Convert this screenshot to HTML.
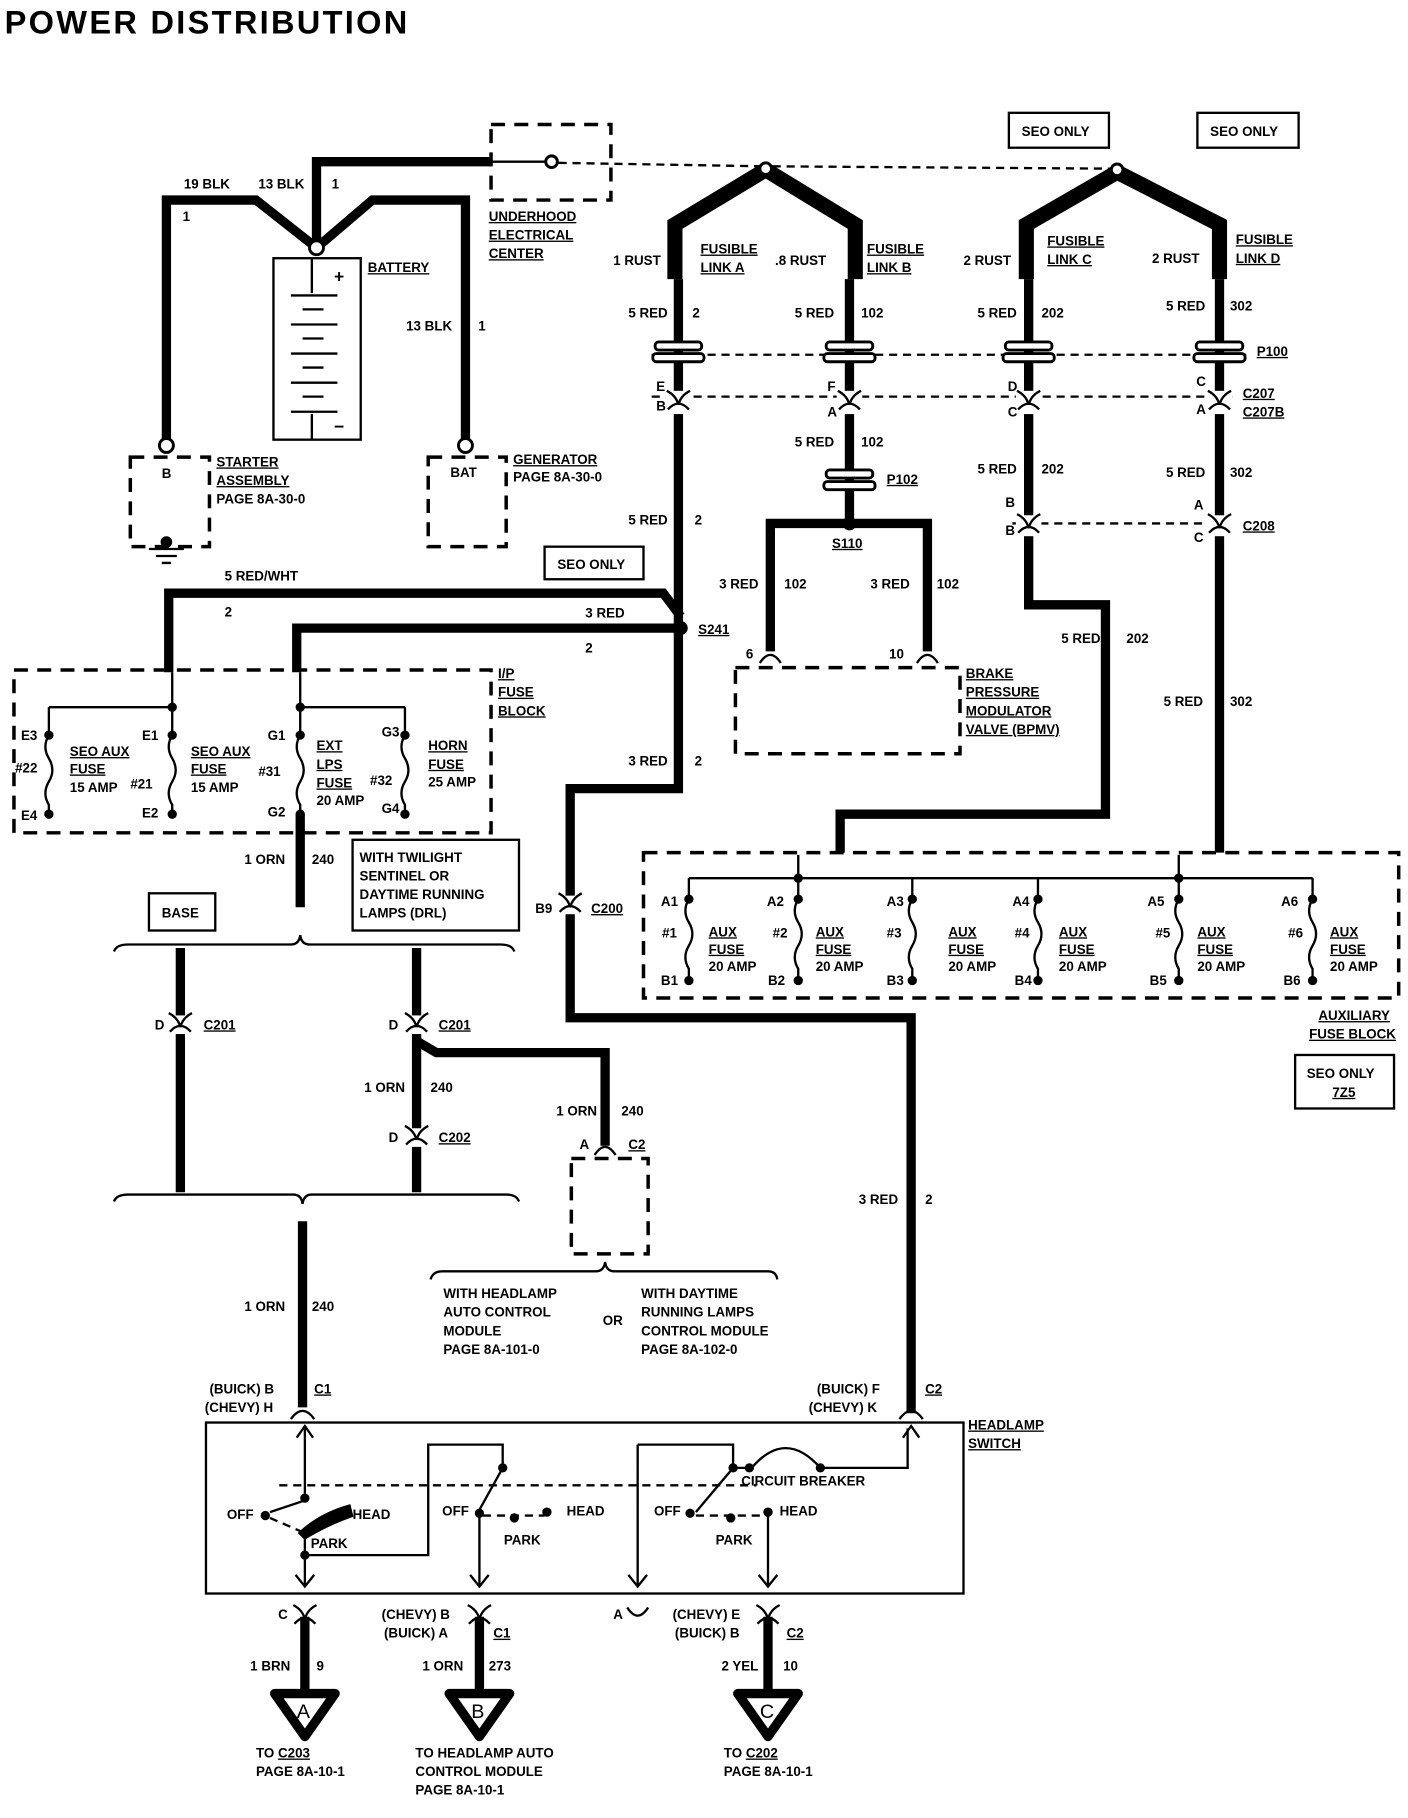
<!DOCTYPE html>
<html><head><meta charset="utf-8"><style>
html,body{margin:0;padding:0;background:#fff}
svg{display:block}
text{font-family:"Liberation Sans",sans-serif;font-weight:bold;font-size:11.5px;fill:#000}
.k{stroke:#000;fill:none;stroke-width:8;stroke-linejoin:miter}
.f{stroke:#000;fill:none;stroke-width:13}
.n{stroke:#000;fill:none;stroke-width:2}
.d{stroke:#000;fill:none;stroke-width:3;stroke-dasharray:12 8}
.dl{stroke:#000;fill:none;stroke-width:2;stroke-dasharray:7 5}
.u{text-decoration:underline}
.w{fill:#fff;stroke:#000;stroke-width:2.5}
</style></head><body>
<svg width="1408" height="1818" viewBox="0 0 1210 1563" preserveAspectRatio="none" xmlns="http://www.w3.org/2000/svg">
<defs>
<g id="cn"><path d="M-10,-10 Q-2,-6 0,2 Q2,-6 10,-10" class="n" stroke-width="2.5"/><path d="M-9,6 Q0,-4 9,6" class="n" stroke-width="2.5"/></g>
<g id="gr"><rect x="-20" y="-8" width="40" height="7" rx="3" class="w"/><rect x="-22" y="2" width="44" height="7" rx="3" class="w"/></g>
<g id="sw"><path d="M-8,-8 L0,2 L8,-8" class="n"/></g>
</defs>
<text x="4" y="29" style="font-size:28px;font-weight:bold;letter-spacing:-1px" textLength="345">POWER DISTRIBUTION</text>

<!-- battery area -->
<path class="k" d="M272,213 V139 H422"/>
<path class="k" d="M143,383 V172 H220 L272,213 L320,172 H400 V383"/>
<rect x="422" y="107" width="103" height="65" class="d"/>
<path class="n" d="M422,139 H468"/><circle cx="474" cy="139" r="5" class="w"/>
<path class="dl" d="M480,140 L658,143"/><path class="dl" d="M664,143 L955,145"/>
<circle cx="272" cy="213" r="6" class="w"/>
<rect x="235" y="222" width="75" height="156" class="n"/>
<path class="n" d="M268,222V252 M250,254H290 M260,266H278 M250,279H290 M260,291H278 M250,304H290 M260,316H278 M250,329H290 M260,341H278 M250,354H290 M268,356V378"/>
<text x="287" y="243" style="font-size:15px">+</text><text x="287" y="372" style="font-size:15px">−</text>
<text x="158" y="162">19 BLK</text><text x="222" y="162">13 BLK</text><text x="285" y="162">1</text><text x="157" y="190">1</text>
<text x="316" y="234" class="u">BATTERY</text><text x="349" y="284">13 BLK</text><text x="411" y="284">1</text>
<circle cx="143" cy="383" r="6" class="w"/><rect x="112" y="393" width="68" height="77" class="d"/>
<text x="139" y="411">B</text><circle cx="143" cy="466" r="5"/><path class="n" d="M128,472H158 M134,478H152 M139,484H147"/>
<text x="186" y="401" class="u">STARTER</text><text x="186" y="417" class="u">ASSEMBLY</text><text x="186" y="433">PAGE 8A-30-0</text>
<circle cx="400" cy="383" r="6" class="w"/><rect x="368" y="393" width="67" height="77" class="d"/>
<text x="387" y="410">BAT</text><text x="441" y="399" class="u">GENERATOR</text><text x="441" y="414">PAGE 8A-30-0</text>
<text x="420" y="190" class="u">UNDERHOOD</text><text x="420" y="206" class="u">ELECTRICAL</text><text x="420" y="222" class="u">CENTER</text>

<!-- fusible links -->
<path class="f" d="M658,146 L580,193 V240 M658,146 L735,193 V240"/>
<path class="f" d="M960,148 L882,193 V240 M960,148 L1048,193 V240"/>
<circle cx="658" cy="145" r="5" class="w"/><circle cx="960" cy="146" r="5" class="w"/>
<text x="527" y="228">1 RUST</text><text x="602" y="218" class="u">FUSIBLE</text><text x="602" y="234" class="u">LINK A</text>
<text x="666" y="228">.8 RUST</text><text x="745" y="218" class="u">FUSIBLE</text><text x="745" y="234" class="u">LINK B</text>
<text x="828" y="228">2 RUST</text><text x="900" y="211" class="u">FUSIBLE</text><text x="900" y="227" class="u">LINK C</text>
<text x="990" y="226">2 RUST</text><text x="1062" y="210" class="u">FUSIBLE</text><text x="1062" y="226" class="u">LINK D</text>
<rect x="867" y="97" width="86" height="30" class="n"/><text x="878" y="117">SEO ONLY</text>
<rect x="1029" y="97" width="87" height="30" class="n"/><text x="1040" y="117">SEO ONLY</text>

<!-- main wires -->
<path class="k" d="M583,240 V678 H490 V875 H783 V1215"/>
<path class="k" d="M730,240 V450"/>
<path class="k" d="M884,240 V520 H950 V700 H722 V733"/>
<path class="k" d="M1048,240 V733"/>
<path class="k" d="M145,578 V510 H570 L585,530"/>
<path class="k" d="M255,578 V540 H585"/>
<circle cx="585" cy="540" r="6"/>
<text x="600" y="545" class="u">S241</text>
<text x="193" y="499">5 RED/WHT</text><text x="193" y="530">2</text><text x="503" y="531">3 RED</text><text x="503" y="561">2</text>
<rect x="468" y="470" width="85" height="28" class="n"/><text x="479" y="489">SEO ONLY</text>
<text x="540" y="273">5 RED</text><text x="595" y="273">2</text>
<text x="683" y="273">5 RED</text><text x="740" y="273">102</text>
<text x="840" y="273">5 RED</text><text x="895" y="273">202</text>
<text x="1002" y="267">5 RED</text><text x="1057" y="267">302</text>
<path class="dl" d="M560,305 H1075"/>
<use href="#gr" x="583" y="302"/><use href="#gr" x="730" y="302"/><use href="#gr" x="884" y="302"/><use href="#gr" x="1048" y="302"/>
<text x="1080" y="306" class="u">P100</text>
<path class="dl" d="M560,341 H1060"/>
<g fill="#fff"><rect x="572" y="336" width="22" height="20" fill="#fff"/><rect x="719" y="336" width="22" height="20" fill="#fff"/><rect x="873" y="336" width="22" height="20" fill="#fff"/><rect x="1037" y="336" width="22" height="20" fill="#fff"/></g>
<use href="#cn" x="583" y="346"/><use href="#cn" x="730" y="346"/><use href="#cn" x="884" y="346"/><use href="#cn" x="1048" y="346"/>
<text x="564" y="336">E</text><text x="564" y="353">B</text><text x="711" y="336">F</text><text x="711" y="358">A</text>
<text x="866" y="336">D</text><text x="866" y="358">C</text><text x="1028" y="332">C</text><text x="1028" y="356">A</text>
<text x="1068" y="342" class="u">C207</text><text x="1068" y="358" class="u">C207B</text>
<text x="540" y="451">5 RED</text><text x="597" y="451">2</text>
<text x="683" y="384">5 RED</text><text x="740" y="384">102</text>
<use href="#gr" x="730" y="412"/><text x="762" y="416" class="u">P102</text>
<circle cx="730" cy="450" r="6"/><text x="715" y="471" class="u">S110</text>
<path class="k" d="M730,450 H662 V560 M730,450 H797 V560"/>
<text x="618" y="506">3 RED</text><text x="674" y="506">102</text><text x="748" y="506">3 RED</text><text x="805" y="506">102</text>
<path class="n" stroke-width="2.5" d="M653,570 Q662,556 671,570 M788,570 Q797,556 806,570"/>
<text x="641" y="566">6</text><text x="764" y="566">10</text>
<rect x="632" y="574" width="193" height="74" class="d"/>
<text x="830" y="583" class="u">BRAKE</text><text x="830" y="599" class="u">PRESSURE</text><text x="830" y="615" class="u">MODULATOR</text><text x="830" y="631" class="u">VALVE (BPMV)</text>
<text x="840" y="407">5 RED</text><text x="895" y="407">202</text>
<text x="1002" y="410">5 RED</text><text x="1057" y="410">302</text>
<path class="dl" d="M870,450 H1060"/>
<rect x="873" y="443" width="22" height="18" fill="#fff"/><rect x="1037" y="443" width="22" height="18" fill="#fff"/>
<use href="#cn" x="884" y="452"/><use href="#cn" x="1048" y="452"/>
<text x="864" y="436">B</text><text x="864" y="460">B</text><text x="1026" y="438">A</text><text x="1026" y="466">C</text>
<text x="1068" y="456" class="u">C208</text>
<text x="912" y="553">5 RED</text><text x="968" y="553">202</text>
<text x="1000" y="607">5 RED</text><text x="1057" y="607">302</text>
<text x="540" y="658">3 RED</text><text x="597" y="658">2</text>
<rect x="480" y="770" width="20" height="16" fill="#fff"/><use href="#cn" x="490" y="778"/>
<text x="460" y="785">B9</text><text x="508" y="785" class="u">C200</text>
<text x="738" y="1035">3 RED</text><text x="795" y="1035">2</text>

<!-- aux fuse block -->
<rect x="553" y="733" width="649" height="125" class="d"/>
<path class="n" d="M592,755 H1128 M686,735V755 M1013,735V755"/>
<circle cx="686" cy="755" r="4"/><circle cx="1013" cy="755" r="4"/>
<g class="n">
<path d="M592,755V773 q-6,10 0,20 q6,10 0,20 q-6,10 0,20 V843"/>
<path d="M686,755V773 q-6,10 0,20 q6,10 0,20 q-6,10 0,20 V843"/>
<path d="M784,755V773 q-6,10 0,20 q6,10 0,20 q-6,10 0,20 V843"/>
<path d="M892,755V773 q-6,10 0,20 q6,10 0,20 q-6,10 0,20 V843"/>
<path d="M1013,755V773 q-6,10 0,20 q6,10 0,20 q-6,10 0,20 V843"/>
<path d="M1128,755V773 q-6,10 0,20 q6,10 0,20 q-6,10 0,20 V843"/>
</g>
<g><circle cx="592" cy="773" r="4"/><circle cx="592" cy="843" r="4"/><circle cx="686" cy="773" r="4"/><circle cx="686" cy="843" r="4"/><circle cx="784" cy="773" r="4"/><circle cx="784" cy="843" r="4"/><circle cx="892" cy="773" r="4"/><circle cx="892" cy="843" r="4"/><circle cx="1013" cy="773" r="4"/><circle cx="1013" cy="843" r="4"/><circle cx="1128" cy="773" r="4"/><circle cx="1128" cy="843" r="4"/></g>
<text x="568" y="779">A1</text><text x="569" y="806">#1</text><text x="568" y="847">B1</text>
<text x="659" y="779">A2</text><text x="664" y="806">#2</text><text x="660" y="847">B2</text>
<text x="762" y="779">A3</text><text x="762" y="806">#3</text><text x="762" y="847">B3</text>
<text x="870" y="779">A4</text><text x="872" y="806">#4</text><text x="872" y="847">B4</text>
<text x="986" y="779">A5</text><text x="993" y="806">#5</text><text x="988" y="847">B5</text>
<text x="1101" y="779">A6</text><text x="1107" y="806">#6</text><text x="1103" y="847">B6</text>
<g><text x="609" y="805" class="u">AUX</text><text x="609" y="820" class="u">FUSE</text><text x="609" y="835">20 AMP</text>
<text x="701" y="805" class="u">AUX</text><text x="701" y="820" class="u">FUSE</text><text x="701" y="835">20 AMP</text>
<text x="815" y="805" class="u">AUX</text><text x="815" y="820" class="u">FUSE</text><text x="815" y="835">20 AMP</text>
<text x="910" y="805" class="u">AUX</text><text x="910" y="820" class="u">FUSE</text><text x="910" y="835">20 AMP</text>
<text x="1029" y="805" class="u">AUX</text><text x="1029" y="820" class="u">FUSE</text><text x="1029" y="835">20 AMP</text>
<text x="1143" y="805" class="u">AUX</text><text x="1143" y="820" class="u">FUSE</text><text x="1143" y="835">20 AMP</text></g>
<text x="1133" y="877" class="u">AUXILIARY</text><text x="1125" y="893" class="u">FUSE BLOCK</text>
<rect x="1113" y="907" width="85" height="46" class="n"/><text x="1123" y="927">SEO ONLY</text><text x="1145" y="943" class="u">7Z5</text>

<!-- I/P fuse block -->
<rect x="12" y="576" width="410" height="140" class="d"/>
<path class="n" d="M42,608H148 M148,578V608 M258,608H348 M258,578V608"/>
<g class="n">
<path d="M42,608V632 q-6,10 0,20 q6,10 0,20 q-6,10 0,20 V700"/>
<path d="M148,608V632 q-6,10 0,20 q6,10 0,20 q-6,10 0,20 V700"/>
<path d="M258,608V632 q-6,10 0,20 q6,10 0,20 q-6,10 0,20 V700"/>
<path d="M348,608V632 q-6,10 0,20 q6,10 0,20 q-6,10 0,20 V700"/>
</g>
<g><circle cx="42" cy="632" r="4"/><circle cx="42" cy="700" r="4"/><circle cx="148" cy="608" r="4"/><circle cx="148" cy="632" r="4"/><circle cx="148" cy="700" r="4"/><circle cx="258" cy="608" r="4"/><circle cx="258" cy="632" r="4"/><circle cx="258" cy="700" r="4"/><circle cx="348" cy="632" r="4"/><circle cx="348" cy="700" r="4"/></g>
<text x="18" y="636">E3</text><text x="13" y="664">#22</text><text x="18" y="705">E4</text>
<text x="60" y="650" class="u">SEO AUX</text><text x="60" y="665" class="u">FUSE</text><text x="60" y="681">15 AMP</text>
<text x="122" y="636">E1</text><text x="112" y="678">#21</text><text x="122" y="703">E2</text>
<text x="164" y="650" class="u">SEO AUX</text><text x="164" y="665" class="u">FUSE</text><text x="164" y="681">15 AMP</text>
<text x="230" y="636">G1</text><text x="222" y="667">#31</text><text x="230" y="702">G2</text>
<text x="272" y="645" class="u">EXT</text><text x="272" y="661" class="u">LPS</text><text x="272" y="677" class="u">FUSE</text><text x="272" y="692">20 AMP</text>
<text x="328" y="633">G3</text><text x="318" y="675">#32</text><text x="328" y="699">G4</text>
<text x="368" y="645" class="u">HORN</text><text x="368" y="661" class="u">FUSE</text><text x="368" y="676">25 AMP</text>
<text x="428" y="583" class="u">I/P</text><text x="428" y="599" class="u">FUSE</text><text x="428" y="615" class="u">BLOCK</text>

<!-- base area -->
<path class="k" d="M258,700 V780"/>
<text x="210" y="743">1 ORN</text><text x="268" y="743">240</text>
<rect x="303" y="722" width="143" height="78" class="n"/>
<text x="309" y="741">WITH TWILIGHT</text><text x="309" y="757">SENTINEL OR</text><text x="309" y="773">DAYTIME RUNNING</text><text x="309" y="789">LAMPS (DRL)</text>
<rect x="128" y="768" width="57" height="32" class="n"/><text x="139" y="789">BASE</text>
<path class="n" d="M98,818 Q100,812 110,812 H250 Q257,812 258,804 Q259,812 266,812 H430 Q440,812 442,818"/>
<path class="n" d="M98,1033 Q100,1027 110,1027 H252 Q259,1027 260,1035 Q261,1027 268,1027 H435 Q444,1027 446,1033"/>
<path class="k" d="M155,815 V1025 M358,815 V1025"/>
<path class="k" d="M358,895 L375,905 H520 V985"/>
<rect x="145" y="873" width="20" height="16" fill="#fff"/><use href="#cn" x="155" y="881"/>
<rect x="348" y="873" width="20" height="16" fill="#fff"/><use href="#cn" x="358" y="881"/>
<rect x="348" y="970" width="20" height="16" fill="#fff"/><use href="#cn" x="358" y="978"/>
<text x="133" y="885">D</text><text x="175" y="885" class="u">C201</text><text x="334" y="885">D</text><text x="377" y="885" class="u">C201</text>
<text x="313" y="939">1 ORN</text><text x="370" y="939">240</text>
<text x="334" y="982">D</text><text x="377" y="982" class="u">C202</text>
<text x="478" y="959">1 ORN</text><text x="534" y="959">240</text>
<path class="n" stroke-width="2.5" d="M511,993 Q520,979 529,993"/>
<text x="498" y="988">A</text><text x="540" y="988" class="u">C2</text>
<rect x="491" y="996" width="66" height="82" class="d"/>
<path class="n" d="M370,1100 Q372,1093 380,1093 H512 Q519,1093 520,1085 Q521,1093 528,1093 H660 Q667,1093 668,1100"/>
<text x="381" y="1116">WITH HEADLAMP</text><text x="381" y="1132">AUTO CONTROL</text><text x="381" y="1148">MODULE</text><text x="381" y="1164">PAGE 8A-101-0</text>
<text x="518" y="1139">OR</text>
<text x="551" y="1116">WITH DAYTIME</text><text x="551" y="1132">RUNNING LAMPS</text><text x="551" y="1148">CONTROL MODULE</text><text x="551" y="1164">PAGE 8A-102-0</text>
<path class="k" d="M260,1050 V1210"/>
<text x="210" y="1127">1 ORN</text><text x="268" y="1127">240</text>
<text x="180" y="1198">(BUICK) B</text><text x="176" y="1214">(CHEVY) H</text><text x="270" y="1198" class="u">C1</text>
<text x="702" y="1198">(BUICK) F</text><text x="695" y="1214">(CHEVY) K</text><text x="795" y="1198" class="u">C2</text>
<path class="n" stroke-width="2.5" d="M250,1220 Q260,1206 270,1220 M773,1220 Q783,1206 793,1220"/>

<!-- headlamp switch -->
<rect x="177" y="1223" width="651" height="147" class="n" stroke-width="4"/>
<text x="832" y="1229" class="u">HEADLAMP</text><text x="832" y="1245" class="u">SWITCH</text>
<path class="n" d="M262,1228V1290 L232,1300 M262,1318V1363 M262,1337H368V1242H432V1262 L412,1298 M412,1300V1363 M548,1242V1363 M548,1242H630V1262 L598,1300 M630,1262H646 M705,1262H780V1228 M660,1300V1363"/>
<path class="n" d="M646,1262 Q675,1228 705,1262"/>
<path class="n" d="M255,1236 L262,1226 L269,1236 M776,1236 L783,1226 L790,1236"/>
<use href="#sw" x="262" y="1362"/><use href="#sw" x="412" y="1362"/><use href="#sw" x="548" y="1362"/><use href="#sw" x="660" y="1362"/>
<path class="dl" d="M240,1277H650"/>
<path class="dl" d="M232,1305 L262,1318 M415,1303 H468 M598,1303 H660"/>
<path d="M258,1318 Q275,1302 300,1295 L302,1303 Q282,1310 262,1322Z" stroke="#000" stroke-width="3"/>
<g><circle cx="262" cy="1288" r="4"/><circle cx="228" cy="1303" r="4"/><circle cx="262" cy="1337" r="4"/><circle cx="432" cy="1262" r="4"/><circle cx="412" cy="1301" r="4"/><circle cx="442" cy="1305" r="4"/><circle cx="470" cy="1300" r="4"/><circle cx="630" cy="1262" r="4"/><circle cx="644" cy="1262" r="4"/><circle cx="705" cy="1262" r="4"/><circle cx="593" cy="1301" r="4"/><circle cx="628" cy="1305" r="4"/><circle cx="660" cy="1300" r="4"/></g>
<text x="195" y="1306">OFF</text><text x="303" y="1306">HEAD</text><text x="267" y="1331">PARK</text>
<text x="380" y="1303">OFF</text><text x="487" y="1303">HEAD</text><text x="433" y="1328">PARK</text>
<text x="562" y="1303">OFF</text><text x="670" y="1303">HEAD</text><text x="615" y="1328">PARK</text>
<text x="637" y="1277">CIRCUIT BREAKER</text>

<!-- bottom outputs -->
<path class="k" d="M262,1390 V1455 M412,1390 V1455 M660,1390 V1455"/>
<use href="#cn" x="262" y="1390"/><use href="#cn" x="412" y="1390"/><use href="#cn" x="660" y="1390"/>
<path class="n" stroke-width="2.5" d="M539,1382 Q548,1396 557,1382"/>
<text x="239" y="1392">C</text><text x="328" y="1392">(CHEVY) B</text><text x="330" y="1408">(BUICK) A</text><text x="424" y="1408" class="u">C1</text>
<text x="527" y="1392">A</text><text x="578" y="1392">(CHEVY) E</text><text x="580" y="1408">(BUICK) B</text><text x="676" y="1408" class="u">C2</text>
<text x="215" y="1436">1 BRN</text><text x="272" y="1436">9</text>
<text x="363" y="1436">1 ORN</text><text x="420" y="1436">273</text>
<text x="620" y="1436">2 YEL</text><text x="673" y="1436">10</text>
<path d="M236,1456 H288 L262,1493Z" fill="none" stroke="#000" stroke-width="8" stroke-linejoin="round"/>
<path d="M386,1456 H438 L412,1493Z" fill="none" stroke="#000" stroke-width="8" stroke-linejoin="round"/>
<path d="M634,1456 H686 L660,1493Z" fill="none" stroke="#000" stroke-width="8" stroke-linejoin="round"/>
<text x="255" y="1477" style="font-size:17px;font-weight:normal">A</text>
<text x="405" y="1477" style="font-size:17px;font-weight:normal">B</text>
<text x="653" y="1477" style="font-size:17px;font-weight:normal">C</text>
<text x="220" y="1511">TO <tspan class="u">C203</tspan></text><text x="220" y="1527">PAGE 8A-10-1</text>
<text x="357" y="1511">TO HEADLAMP AUTO</text><text x="357" y="1527">CONTROL MODULE</text><text x="357" y="1543">PAGE 8A-10-1</text>
<text x="622" y="1511">TO <tspan class="u">C202</tspan></text><text x="622" y="1527">PAGE 8A-10-1</text>
</svg>
</body></html>
